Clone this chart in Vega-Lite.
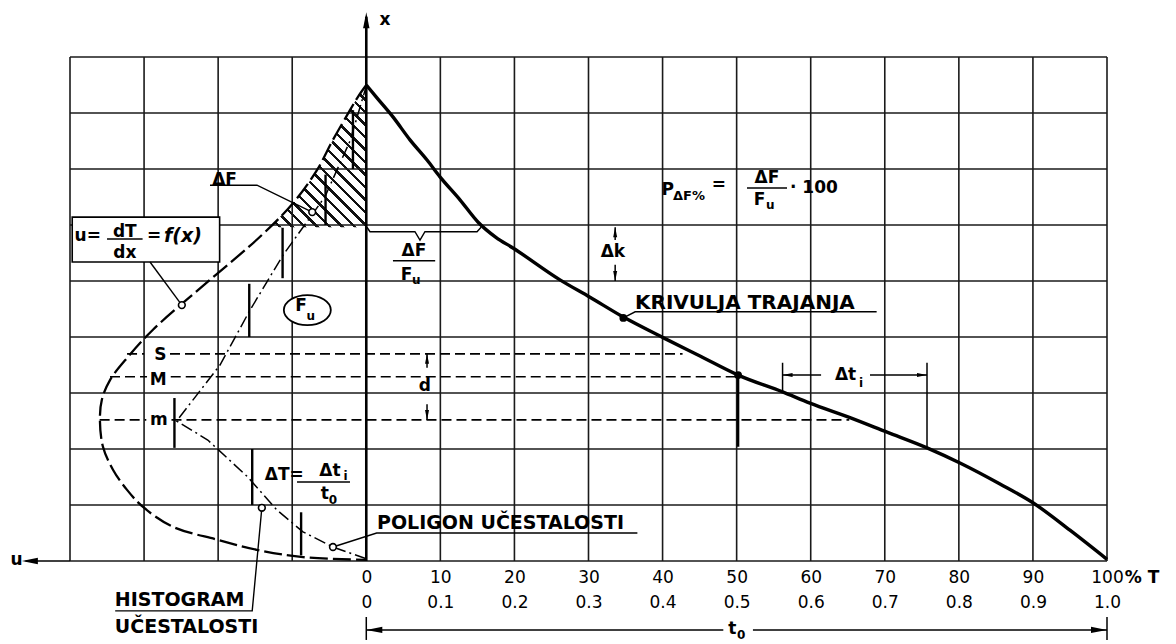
{
  "$schema": "https://vega.github.io/schema/vega-lite/v6.json",
  "width": 1037,
  "height": 504,
  "autosize": {"type": "none"},
  "padding": {"left": 70, "top": 57, "right": 69, "bottom": 83},
  "background": "white",
  "config": {"view": {"stroke": null}, "text": {"font": "DejaVu Sans", "color": "#000"}},
  "datasets": {
    "grid_t": [
      {"t": -40, "x": 0, "x2": 9}, {"t": -30, "x": 0, "x2": 9}, {"t": -20, "x": 0, "x2": 9}, {"t": -10, "x": 0, "x2": 9},
      {"t": 10, "x": 0, "x2": 9}, {"t": 20, "x": 0, "x2": 9}, {"t": 30, "x": 0, "x2": 9}, {"t": 40, "x": 0, "x2": 9},
      {"t": 50, "x": 0, "x2": 9}, {"t": 60, "x": 0, "x2": 9}, {"t": 70, "x": 0, "x2": 9}, {"t": 80, "x": 0, "x2": 9},
      {"t": 90, "x": 0, "x2": 9}, {"t": 100, "x": 0, "x2": 9}
    ],
    "grid_x": [
      {"x": 0, "t": -40, "t2": 100}, {"x": 1, "t": -40, "t2": 100}, {"x": 2, "t": -40, "t2": 100}, {"x": 3, "t": -40, "t2": 100},
      {"x": 4, "t": -40, "t2": 100}, {"x": 5, "t": -40, "t2": 100}, {"x": 6, "t": -40, "t2": 100}, {"x": 7, "t": -40, "t2": 100},
      {"x": 8, "t": -40, "t2": 100}, {"x": 9, "t": -40, "t2": 100}
    ],
    "duration": [
      {"t": 0, "x": 8.5}, {"t": 1.44, "x": 8.27}, {"t": 3.6, "x": 7.93}, {"t": 5.9, "x": 7.52}, {"t": 8.2, "x": 7.16},
      {"t": 9.95, "x": 6.86}, {"t": 12.65, "x": 6.45}, {"t": 15.1, "x": 6.05}, {"t": 17.5, "x": 5.78}, {"t": 19.8, "x": 5.59},
      {"t": 26.15, "x": 5.02}, {"t": 30.2, "x": 4.71}, {"t": 34.65, "x": 4.36}, {"t": 40.2, "x": 3.98}, {"t": 45.05, "x": 3.66},
      {"t": 50.2, "x": 3.32}, {"t": 56.2, "x": 3.02}, {"t": 59.9, "x": 2.82}, {"t": 65.3, "x": 2.56}, {"t": 70.3, "x": 2.3},
      {"t": 75.7, "x": 2.02}, {"t": 80.15, "x": 1.75}, {"t": 85.55, "x": 1.375}, {"t": 90.0, "x": 1.04}, {"t": 95.0, "x": 0.55},
      {"t": 100, "x": 0.03}
    ],
    "freq": [
      {"i": 1, "t": 0, "x": 8.5}, {"i": 2, "t": -1.12, "x": 8.29}, {"i": 3, "t": -2.2, "x": 8.05}, {"i": 4, "t": -4.5, "x": 7.52},
      {"i": 5, "t": -6.66, "x": 6.98}, {"i": 6, "t": -9.9, "x": 6.39}, {"i": 7, "t": -14.35, "x": 5.79}, {"i": 8, "t": -21.1, "x": 5.02},
      {"i": 9, "t": -28.8, "x": 4.13}, {"i": 10, "t": -32.2, "x": 3.64}, {"i": 11, "t": -34.6, "x": 3.23}, {"i": 12, "t": -35.7, "x": 2.88},
      {"i": 13, "t": -35.96, "x": 2.52}, {"i": 14, "t": -35.55, "x": 2.04}, {"i": 15, "t": -34.2, "x": 1.63}, {"i": 16, "t": -32.3, "x": 1.27},
      {"i": 17, "t": -30.1, "x": 0.96}, {"i": 18, "t": -26.1, "x": 0.61}, {"i": 19, "t": -20.1, "x": 0.38}, {"i": 20, "t": -14.8, "x": 0.2},
      {"i": 21, "t": -8.55, "x": 0.07}, {"i": 22, "t": 0, "x": 0.02}
    ],
    "hatch": [
      {"t": -13.09, "x": 5.96}, {"t": -9.9, "x": 6.39}, {"t": -6.66, "x": 6.98}, {"t": -4.5, "x": 7.52},
      {"t": -2.2, "x": 8.05}, {"t": -1.12, "x": 8.29}, {"t": 0, "x": 8.5}
    ],
    "polygon": [
      {"i": 1, "t": 0, "x": 0.04}, {"i": 2, "t": -4.5, "x": 0.25}, {"i": 3, "t": -8.55, "x": 0.52}, {"i": 4, "t": -12.06, "x": 0.91},
      {"i": 5, "t": -16.0, "x": 1.5}, {"i": 6, "t": -21.4, "x": 2.16}, {"i": 7, "t": -25.6, "x": 2.5}, {"i": 8, "t": -19.75, "x": 3.5},
      {"i": 9, "t": -15.7, "x": 4.48}, {"i": 10, "t": -11.25, "x": 5.46}, {"i": 11, "t": -5.6, "x": 6.5}, {"i": 12, "t": -2.2, "x": 7.5},
      {"i": 13, "t": 0, "x": 8.48}
    ],
    "bars": [
      {"t": -8.8, "x": 0.1, "x2": 0.87}, {"t": -15.4, "x": 1, "x2": 2}, {"t": -25.9, "x": 2.02, "x2": 2.91},
      {"t": -15.8, "x": 4, "x2": 4.95}, {"t": -11.3, "x": 5.05, "x2": 5.95}, {"t": -5.5, "x": 6.0, "x2": 6.9},
      {"t": -1.8, "x": 7.0, "x2": 8.05}, {"t": 50.2, "x": 2.04, "x2": 3.32}
    ],
    "vthin": [
      {"t": 8.2, "x": 3.45, "x2": 3.7}, {"t": 8.2, "x": 2.52, "x2": 2.8},
      {"t": 33.6, "x": 5.73, "x2": 5.96}, {"t": 33.6, "x": 5.0, "x2": 5.29},
      {"t": 56.2, "x": 3.02, "x2": 3.54}, {"t": 75.7, "x": 2.02, "x2": 3.54},
      {"t": 0, "x": -1.41, "x2": -1.0}, {"t": 100, "x": -1.41, "x2": -1.0}
    ],
    "hthin": [
      {"t": 3.6, "t2": 9.3, "x": 5.36}, {"t": 51.4, "t2": 56.8, "x": 6.66}, {"t": -35.0, "t2": -30.2, "x": 5.75},
      {"t": -9.35, "t2": -2.2, "x": 1.41}, {"t": 56.2, "t2": 61.4, "x": 3.32}, {"t": 68.0, "t2": 75.7, "x": 3.32},
      {"t": 0, "t2": 48.2, "x": -1.23}, {"t": 52.2, "t2": 100, "x": -1.23}, {"t": -46, "t2": -40, "x": 0}
    ],
    "levels": [
      {"t": -32.3, "t2": -30.0, "x": 3.7}, {"t": -26.5, "t2": 42.7, "x": 3.7},
      {"t": -34.6, "t2": -29.6, "x": 3.29}, {"t": -26.4, "t2": 50.2, "x": 3.29},
      {"t": -36.0, "t2": -29.7, "x": 2.52}, {"t": -26.3, "t2": 65.2, "x": 2.52}
    ],
    "leaders": [
      {"g": "a", "i": 1, "t": -21.1, "x": 6.71}, {"g": "a", "i": 2, "t": -14.76, "x": 6.71}, {"g": "a", "i": 3, "t": -7.3, "x": 6.23},
      {"g": "b", "i": 1, "t": -29.2, "x": 5.34}, {"g": "b", "i": 2, "t": -24.9, "x": 4.57},
      {"g": "c", "i": 1, "t": -14.1, "x": 0.95}, {"g": "c", "i": 2, "t": -15.4, "x": -0.89}, {"g": "c", "i": 3, "t": -33.9, "x": -0.89},
      {"g": "d", "i": 1, "t": -4.5, "x": 0.25}, {"g": "d", "i": 2, "t": 1.4, "x": 0.5}, {"g": "d", "i": 3, "t": 36.6, "x": 0.5},
      {"g": "e", "i": 1, "t": 34.7, "x": 4.34}, {"g": "e", "i": 2, "t": 36.3, "x": 4.45}, {"g": "e", "i": 3, "t": 68.9, "x": 4.45},
      {"g": "f", "i": 1, "t": 0.09, "x": 5.96}, {"g": "f", "i": 2, "t": 0.5, "x": 5.88}, {"g": "f", "i": 3, "t": 6.57, "x": 5.88},
      {"g": "f", "i": 4, "t": 7.25, "x": 5.73}, {"g": "f", "i": 5, "t": 7.92, "x": 5.88}, {"g": "f", "i": 6, "t": 14.95, "x": 5.88},
      {"g": "f", "i": 7, "t": 15.5, "x": 5.96}
    ],
    "heads_small": [
      {"t": 8.2, "x": 3.7, "dir": "up"}, {"t": 8.2, "x": 2.52, "dir": "down"},
      {"t": 33.6, "x": 5.96, "dir": "up"}, {"t": 33.6, "x": 5.0, "dir": "down"},
      {"t": 56.2, "x": 3.32, "dir": "left"}, {"t": 75.7, "x": 3.32, "dir": "right"}
    ],
    "heads_big": [
      {"t": 0, "x": 9.8, "dir": "up"}, {"t": -46.5, "x": 0, "dir": "left"},
      {"t": 0, "x": -1.23, "dir": "left"}, {"t": 100, "x": -1.23, "dir": "right"}
    ]
  },
  "encoding": {
    "x": {
      "field": "t", "type": "quantitative",
      "scale": {"domain": [-40, 100], "nice": false, "zero": false},
      "axis": {
        "values": [0, 10, 20, 30, 40, 50, 60, 70, 80, 90, 100],
        "format": "d",
        "labelExpr": "[datum.label, datum.value == 0 ? '0' : format(datum.value / 100, '.1f')]",
        "domain": false, "ticks": false, "grid": false, "title": null,
        "labelFont": "DejaVu Sans", "labelFontSize": 17, "labelColor": "#000",
        "labelPadding": 8, "labelLineHeight": 25, "labelBaseline": "top",
        "labelOverlap": false, "labelFlush": false, "labelBound": false
      }
    },
    "y": {"field": "x", "type": "quantitative", "scale": {"domain": [0, 9], "nice": false, "zero": false}, "axis": null}
  },
  "layer": [
    {
      "data": {"name": "hatch"},
      "mark": {
        "type": "area", "orient": "horizontal", "interpolate": "monotone",
        "fill": {
          "gradient": "linear", "x1": 0, "y1": 1, "x2": 0.82, "y2": -0.2,
          "stops": [
            {"offset": 0, "color": "#fff"}, {"offset": 0.037, "color": "#fff"}, {"offset": 0.037, "color": "#111"}, {"offset": 0.05, "color": "#111"},
            {"offset": 0.05, "color": "#fff"}, {"offset": 0.087, "color": "#fff"}, {"offset": 0.087, "color": "#111"}, {"offset": 0.1, "color": "#111"},
            {"offset": 0.1, "color": "#fff"}, {"offset": 0.137, "color": "#fff"}, {"offset": 0.137, "color": "#111"}, {"offset": 0.15, "color": "#111"},
            {"offset": 0.15, "color": "#fff"}, {"offset": 0.187, "color": "#fff"}, {"offset": 0.187, "color": "#111"}, {"offset": 0.2, "color": "#111"},
            {"offset": 0.2, "color": "#fff"}, {"offset": 0.237, "color": "#fff"}, {"offset": 0.237, "color": "#111"}, {"offset": 0.25, "color": "#111"},
            {"offset": 0.25, "color": "#fff"}, {"offset": 0.287, "color": "#fff"}, {"offset": 0.287, "color": "#111"}, {"offset": 0.3, "color": "#111"},
            {"offset": 0.3, "color": "#fff"}, {"offset": 0.337, "color": "#fff"}, {"offset": 0.337, "color": "#111"}, {"offset": 0.35, "color": "#111"},
            {"offset": 0.35, "color": "#fff"}, {"offset": 0.387, "color": "#fff"}, {"offset": 0.387, "color": "#111"}, {"offset": 0.4, "color": "#111"},
            {"offset": 0.4, "color": "#fff"}, {"offset": 0.437, "color": "#fff"}, {"offset": 0.437, "color": "#111"}, {"offset": 0.45, "color": "#111"},
            {"offset": 0.45, "color": "#fff"}, {"offset": 0.487, "color": "#fff"}, {"offset": 0.487, "color": "#111"}, {"offset": 0.5, "color": "#111"},
            {"offset": 0.5, "color": "#fff"}, {"offset": 0.537, "color": "#fff"}, {"offset": 0.537, "color": "#111"}, {"offset": 0.55, "color": "#111"},
            {"offset": 0.55, "color": "#fff"}, {"offset": 0.587, "color": "#fff"}, {"offset": 0.587, "color": "#111"}, {"offset": 0.6, "color": "#111"},
            {"offset": 0.6, "color": "#fff"}, {"offset": 0.637, "color": "#fff"}, {"offset": 0.637, "color": "#111"}, {"offset": 0.65, "color": "#111"},
            {"offset": 0.65, "color": "#fff"}, {"offset": 0.687, "color": "#fff"}, {"offset": 0.687, "color": "#111"}, {"offset": 0.7, "color": "#111"},
            {"offset": 0.7, "color": "#fff"}, {"offset": 0.737, "color": "#fff"}, {"offset": 0.737, "color": "#111"}, {"offset": 0.75, "color": "#111"},
            {"offset": 0.75, "color": "#fff"}, {"offset": 0.787, "color": "#fff"}, {"offset": 0.787, "color": "#111"}, {"offset": 0.8, "color": "#111"},
            {"offset": 0.8, "color": "#fff"}, {"offset": 0.837, "color": "#fff"}, {"offset": 0.837, "color": "#111"}, {"offset": 0.85, "color": "#111"},
            {"offset": 0.85, "color": "#fff"}, {"offset": 0.887, "color": "#fff"}, {"offset": 0.887, "color": "#111"}, {"offset": 0.9, "color": "#111"},
            {"offset": 0.9, "color": "#fff"}, {"offset": 0.937, "color": "#fff"}, {"offset": 0.937, "color": "#111"}, {"offset": 0.95, "color": "#111"},
            {"offset": 0.95, "color": "#fff"}, {"offset": 0.987, "color": "#fff"}, {"offset": 0.987, "color": "#111"}, {"offset": 1, "color": "#111"}
          ]
        }
      },
      "encoding": {"x2": {"datum": 0}}
    },
    {
      "data": {"name": "grid_t"},
      "mark": {"type": "rule", "color": "#1a1a1a", "strokeWidth": 1.6},
      "encoding": {"y2": {"field": "x2"}}
    },
    {
      "data": {"name": "grid_x"},
      "mark": {"type": "rule", "color": "#1a1a1a", "strokeWidth": 1.6},
      "encoding": {"x2": {"field": "t2"}}
    },
    {
      "data": {"values": [{"t": 0, "x": 0, "x2": 9.72}]},
      "mark": {"type": "rule", "color": "#000", "strokeWidth": 2.6},
      "encoding": {"y2": {"field": "x2"}}
    },
    {
      "data": {"values": [{"t": -39.7, "t2": -19.8, "x": 5.34, "x2": 6.14}]},
      "mark": {"type": "rect", "fill": "#fff", "stroke": "#000", "strokeWidth": 1.6},
      "encoding": {"x2": {"field": "t2"}, "y2": {"field": "x2"}}
    },
    {
      "data": {"name": "freq"},
      "mark": {"type": "line", "interpolate": "catmull-rom", "color": "#000", "strokeWidth": 2.3, "strokeDash": [18, 5]},
      "encoding": {"order": {"field": "i", "type": "quantitative"}}
    },
    {
      "data": {"name": "duration"},
      "mark": {"type": "line", "interpolate": "monotone", "color": "#000", "strokeWidth": 3.4}
    },
    {
      "data": {"name": "polygon"},
      "mark": {"type": "line", "color": "#000", "strokeWidth": 1.5, "strokeDash": [12, 4, 2, 4]},
      "encoding": {"order": {"field": "i", "type": "quantitative"}}
    },
    {
      "data": {"name": "levels"},
      "mark": {"type": "rule", "color": "#000", "strokeWidth": 1.7, "strokeDash": [10, 5]},
      "encoding": {"x2": {"field": "t2"}}
    },
    {
      "data": {"name": "bars"},
      "mark": {"type": "rule", "color": "#000", "strokeWidth": 2.4},
      "encoding": {"y2": {"field": "x2"}}
    },
    {
      "data": {"name": "vthin"},
      "mark": {"type": "rule", "color": "#000", "strokeWidth": 1.5},
      "encoding": {"y2": {"field": "x2"}}
    },
    {
      "data": {"name": "hthin"},
      "mark": {"type": "rule", "color": "#000", "strokeWidth": 1.5},
      "encoding": {"x2": {"field": "t2"}}
    },
    {
      "data": {"name": "leaders"},
      "mark": {"type": "line", "color": "#000", "strokeWidth": 1.4},
      "encoding": {"detail": {"field": "g", "type": "nominal"}, "order": {"field": "i", "type": "quantitative"}}
    },
    {
      "data": {"values": [{"t": -24.9, "x": 4.57}, {"t": -7.3, "x": 6.23}, {"t": -14.1, "x": 0.95}, {"t": -4.5, "x": 0.25}]},
      "mark": {"type": "point", "filled": true, "fill": "#fff", "size": 45, "stroke": "#000", "strokeWidth": 1.6, "opacity": 1}
    },
    {
      "data": {"values": [{"t": 34.7, "x": 4.34}, {"t": 50.2, "x": 3.32}]},
      "mark": {"type": "point", "filled": true, "size": 60, "color": "#000", "opacity": 1}
    },
    {
      "data": {"values": [{"t": -7.96, "x": 4.48}]},
      "mark": {"type": "point", "filled": true, "fill": "#fff", "size": 2209, "stroke": "#000", "strokeWidth": 1.8, "opacity": 1,
               "shape": "M-1,0A1,0.64 0 1,1 1,0A1,0.64 0 1,1 -1,0Z"}
    },
    {
      "data": {"name": "heads_small"},
      "mark": {"type": "point", "filled": true, "size": 100, "color": "#000", "opacity": 1},
      "encoding": {
        "shape": {"field": "dir", "type": "nominal", "legend": null,
          "scale": {"domain": ["up", "down", "left", "right"],
                    "range": ["M0,0L-0.4,2L0.4,2Z", "M0,0L-0.4,-2L0.4,-2Z", "M0,0L2,-0.4L2,0.4Z", "M0,0L-2,-0.4L-2,0.4Z"]}}
      }
    },
    {
      "data": {"name": "heads_big"},
      "mark": {"type": "point", "filled": true, "size": 256, "color": "#000", "opacity": 1},
      "encoding": {
        "shape": {"field": "dir", "type": "nominal", "legend": null,
          "scale": {"domain": ["up", "down", "left", "right"],
                    "range": ["M0,0L-0.4,2L0.4,2Z", "M0,0L-0.4,-2L0.4,-2Z", "M0,0L2,-0.4L2,0.4Z", "M0,0L-2,-0.4L-2,0.4Z"]}}
      }
    },
    {
      "data": {"values": [
        {"t": -27.8, "x": 3.68, "label": "S"}, {"t": -28.1, "x": 3.23, "label": "M"},
        {"t": -28.0, "x": 2.52, "label": "m"}, {"t": -47.2, "x": 0.02, "label": "u"}
      ]},
      "mark": {"type": "text", "font": "DejaVu Sans", "fontWeight": "bold", "fontSize": 17, "align": "center", "baseline": "middle"},
      "encoding": {"text": {"field": "label"}}
    },
    {
      "data": {"values": [
        {"t": 2.52, "x": 9.66, "label": "x"}, {"t": 7.9, "x": 3.12, "label": "d"}, {"t": 33.3, "x": 5.52, "label": "Δk"},
        {"t": 64.7, "x": 3.32, "label": "Δt"}, {"t": 6.44, "x": 5.54, "label": "ΔF"}, {"t": 5.43, "x": 5.11, "label": "F"},
        {"t": 40.7, "x": 6.63, "label": "P"}, {"t": 47.6, "x": 6.71, "label": "="}, {"t": 54.1, "x": 6.84, "label": "ΔF"},
        {"t": 53.1, "x": 6.45, "label": "F"}, {"t": -37.6, "x": 5.8, "label": "u="}, {"t": -32.6, "x": 5.88, "label": "dT"},
        {"t": -32.6, "x": 5.5, "label": "dx"}, {"t": -4.9, "x": 1.61, "label": "Δt"}, {"t": -5.6, "x": 1.2, "label": "t"},
        {"t": 49.4, "x": -1.21, "label": "t"}, {"t": -8.82, "x": 4.55, "label": "F"}
      ]},
      "mark": {"type": "text", "font": "DejaVu Sans", "fontWeight": "bold", "fontSize": 17, "align": "center", "baseline": "middle"},
      "encoding": {"text": {"field": "label"}}
    },
    {
      "data": {"values": [
        {"t": 66.8, "x": 3.18, "label": "i"}, {"t": 6.75, "x": 5.02, "label": "u"}, {"t": 54.55, "x": 6.36, "label": "u"},
        {"t": -7.5, "x": 4.38, "label": "u"}, {"t": -2.8, "x": 1.52, "label": "i"}, {"t": -4.5, "x": 1.09, "label": "0"},
        {"t": 50.6, "x": -1.32, "label": "0"}
      ]},
      "mark": {"type": "text", "font": "DejaVu Sans", "fontWeight": "bold", "fontSize": 12, "align": "center", "baseline": "middle"},
      "encoding": {"text": {"field": "label"}}
    },
    {
      "data": {"values": [
        {"t": -20.8, "x": 6.8, "label": "ΔF"}, {"t": 57.2, "x": 6.66, "label": "· 100"}, {"t": -13.7, "x": 1.54, "label": "ΔT="},
        {"t": 102.4, "x": -0.3, "label": "% T"}, {"t": -29.6, "x": 5.8, "label": "="}
      ]},
      "mark": {"type": "text", "font": "DejaVu Sans", "fontWeight": "bold", "fontSize": 17, "align": "left", "baseline": "middle"},
      "encoding": {"text": {"field": "label"}}
    },
    {
      "data": {"values": [{"t": -27.3, "x": 5.8, "label": "f(x)"}]},
      "mark": {"type": "text", "font": "DejaVu Sans", "fontWeight": "bold", "fontStyle": "italic", "fontSize": 19, "align": "left", "baseline": "middle"},
      "encoding": {"text": {"field": "label"}}
    },
    {
      "data": {"values": [{"t": 41.4, "x": 6.52, "label": "ΔF%"}]},
      "mark": {"type": "text", "font": "DejaVu Sans", "fontWeight": "bold", "fontSize": 13, "align": "left", "baseline": "middle"},
      "encoding": {"text": {"field": "label"}}
    },
    {
      "data": {"values": [
        {"t": -33.95, "x": -0.7, "label": "HISTOGRAM"}, {"t": -33.95, "x": -1.18, "label": "UČESTALOSTI"},
        {"t": 1.44, "x": 0.68, "label": "POLIGON UČESTALOSTI"}
      ]},
      "mark": {"type": "text", "font": "DejaVu Sans", "fontWeight": "bold", "fontSize": 19, "align": "left", "baseline": "middle"},
      "encoding": {"text": {"field": "label"}}
    },
    {
      "data": {"values": [{"t": 36.28, "x": 4.61, "label": "KRIVULJA TRAJANJA"}]},
      "mark": {"type": "text", "font": "DejaVu Sans", "fontWeight": "bold", "fontSize": 20, "align": "left", "baseline": "middle"},
      "encoding": {"text": {"field": "label"}}
    }
  ]
}
